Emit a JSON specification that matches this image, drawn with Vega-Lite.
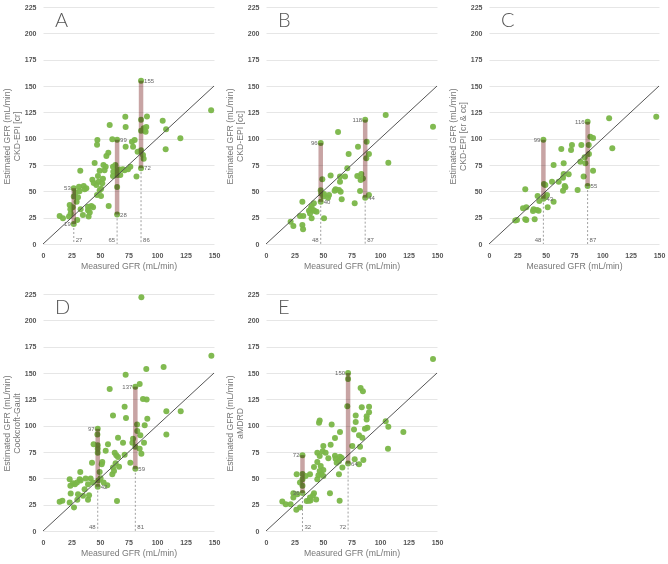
{
 "$schema": "https://vega.github.io/schema/vega-lite/v6.json",
 "padding": {"left": 2, "top": 3, "right": 5, "bottom": 5},
 "background": "white",
 "columns": 3,
 "spacing": {"row": 50, "column": 52},
 "bounds": "flush",
 "config": {
  "view": {"stroke": null},
  "font": "Liberation Sans",
  "axis": {"domain": false, "ticks": false, "labelFontSize": 7, "labelFontWeight": "bold", "labelColor": "#555", "labelFlush": false, "labelOverlap": false, "titleFontSize": 8.7, "titleFontWeight": "normal", "titleColor": "#777", "gridColor": "#e6e6e6", "labelPadding": 7},
  "axisX": {"grid": false, "titlePadding": 3},
  "axisY": {"titlePadding": 3, "titleLineHeight": 10, "titleY": 129}
 },
 "datasets": {
  "diag": [{"from": 0, "to": 150}],
  "panels": [{"panel": "A"}, {"panel": "B"}, {"panel": "C"}, {"panel": "D"}, {"panel": "E"}],
  "bars": [
   {"panel": "A", "mGFR": 27, "low": 19, "high": 53},
   {"panel": "A", "mGFR": 65, "low": 28, "high": 99},
   {"panel": "A", "mGFR": 86, "low": 72, "high": 155},
   {"panel": "B", "mGFR": 48, "low": 40, "high": 96},
   {"panel": "B", "mGFR": 87, "low": 44, "high": 118},
   {"panel": "C", "mGFR": 48, "low": 43, "high": 99},
   {"panel": "C", "mGFR": 87, "low": 55, "high": 116},
   {"panel": "D", "mGFR": 48, "low": 42, "high": 97},
   {"panel": "D", "mGFR": 81, "low": 59, "high": 137},
   {"panel": "E", "mGFR": 32, "low": 36, "high": 72},
   {"panel": "E", "mGFR": 72, "low": 64, "high": 150}
  ],
  "points": [
   {"panel":"A","mGFR":14.6,"eGFR":26.6},{"panel":"A","mGFR":17.5,"eGFR":24.5},{"panel":"A","mGFR":22.8,"eGFR":26},{"panel":"A","mGFR":23.4,"eGFR":37},{"panel":"A","mGFR":24,"eGFR":32.9},{"panel":"A","mGFR":24.3,"eGFR":29},{"panel":"A","mGFR":30,"eGFR":22.8},{"panel":"A","mGFR":32.7,"eGFR":69.6},{"panel":"A","mGFR":31.6,"eGFR":54.4},{"panel":"A","mGFR":35.7,"eGFR":55},{"panel":"A","mGFR":36.5,"eGFR":52},{"panel":"A","mGFR":32,"eGFR":50},{"panel":"A","mGFR":30.7,"eGFR":44.3},{"panel":"A","mGFR":29.5,"eGFR":40},{"panel":"A","mGFR":33,"eGFR":33},{"panel":"A","mGFR":35,"eGFR":27.5},{"panel":"A","mGFR":39.5,"eGFR":32},{"panel":"A","mGFR":40,"eGFR":26},{"panel":"A","mGFR":39.5,"eGFR":35.4},{"panel":"A","mGFR":42.4,"eGFR":36},{"panel":"A","mGFR":43.9,"eGFR":35},{"panel":"A","mGFR":43.3,"eGFR":61},{"panel":"A","mGFR":45.3,"eGFR":77},{"panel":"A","mGFR":47.7,"eGFR":98.7},{"panel":"A","mGFR":47.4,"eGFR":94.3},{"panel":"A","mGFR":46.8,"eGFR":56},{"panel":"A","mGFR":48.2,"eGFR":64.5},{"panel":"A","mGFR":49.7,"eGFR":69.6},{"panel":"A","mGFR":48.8,"eGFR":59},{"panel":"A","mGFR":49.7,"eGFR":51},{"panel":"A","mGFR":51,"eGFR":52.5},{"panel":"A","mGFR":47.4,"eGFR":46.5},{"panel":"A","mGFR":50.9,"eGFR":45.6},{"panel":"A","mGFR":52,"eGFR":57.6},{"panel":"A","mGFR":52.6,"eGFR":62},{"panel":"A","mGFR":55.6,"eGFR":83.5},{"panel":"A","mGFR":57.3,"eGFR":86.7},{"panel":"A","mGFR":54,"eGFR":70},{"panel":"A","mGFR":55,"eGFR":73.4},{"panel":"A","mGFR":53,"eGFR":75},{"panel":"A","mGFR":57.6,"eGFR":36},{"panel":"A","mGFR":58.5,"eGFR":113},{"panel":"A","mGFR":61.7,"eGFR":68.7},{"panel":"A","mGFR":61.4,"eGFR":73.4},{"panel":"A","mGFR":61.4,"eGFR":64.5},{"panel":"A","mGFR":63.5,"eGFR":75},{"panel":"A","mGFR":60.8,"eGFR":99.4},{"panel":"A","mGFR":65,"eGFR":99},{"panel":"A","mGFR":65,"eGFR":70},{"panel":"A","mGFR":65,"eGFR":65.5},{"panel":"A","mGFR":65,"eGFR":54},{"panel":"A","mGFR":65,"eGFR":28},{"panel":"A","mGFR":67,"eGFR":70.8},{"panel":"A","mGFR":67.8,"eGFR":65.5},{"panel":"A","mGFR":70,"eGFR":71},{"panel":"A","mGFR":71.6,"eGFR":70},{"panel":"A","mGFR":72.5,"eGFR":111},{"panel":"A","mGFR":72.2,"eGFR":120.7},{"panel":"A","mGFR":72.5,"eGFR":92.4},{"panel":"A","mGFR":74.6,"eGFR":71},{"panel":"A","mGFR":76.6,"eGFR":73.4},{"panel":"A","mGFR":78,"eGFR":97},{"panel":"A","mGFR":79,"eGFR":92.4},{"panel":"A","mGFR":80.4,"eGFR":98.7},{"panel":"A","mGFR":82,"eGFR":64},{"panel":"A","mGFR":83,"eGFR":87.6},{"panel":"A","mGFR":86,"eGFR":155},{"panel":"A","mGFR":86,"eGFR":118},{"panel":"A","mGFR":86,"eGFR":107.6},{"panel":"A","mGFR":86,"eGFR":89},{"panel":"A","mGFR":86,"eGFR":72},{"panel":"A","mGFR":88.3,"eGFR":110},{"panel":"A","mGFR":89,"eGFR":108},{"panel":"A","mGFR":90.6,"eGFR":111},{"panel":"A","mGFR":91.2,"eGFR":121},{"panel":"A","mGFR":87.7,"eGFR":84.5},{"panel":"A","mGFR":90,"eGFR":106.6},{"panel":"A","mGFR":105,"eGFR":117},{"panel":"A","mGFR":108,"eGFR":109},{"panel":"A","mGFR":107.6,"eGFR":90},{"panel":"A","mGFR":120.5,"eGFR":100.3},{"panel":"A","mGFR":147.5,"eGFR":127},{"panel":"A","mGFR":88.3,"eGFR":81},{"panel":"A","mGFR":27,"eGFR":53},{"panel":"A","mGFR":27,"eGFR":45},{"panel":"A","mGFR":27,"eGFR":19},{"panel":"A","mGFR":26,"eGFR":35},{"panel":"A","mGFR":38,"eGFR":53},{"panel":"A","mGFR":41,"eGFR":30},{"panel":"A","mGFR":44.5,"eGFR":58},{"panel":"A","mGFR":28.5,"eGFR":49},
   {"panel":"B","mGFR":146.5,"eGFR":111.4},{"panel":"B","mGFR":105,"eGFR":122.5},{"panel":"B","mGFR":107.3,"eGFR":77.2},{"panel":"B","mGFR":63.2,"eGFR":106.3},{"panel":"B","mGFR":72.5,"eGFR":85.4},{"panel":"B","mGFR":71.3,"eGFR":71.8},{"panel":"B","mGFR":80.7,"eGFR":92.4},{"panel":"B","mGFR":87,"eGFR":118},{"panel":"B","mGFR":88.3,"eGFR":97},{"panel":"B","mGFR":90.3,"eGFR":85.4},{"panel":"B","mGFR":88,"eGFR":81.3},{"panel":"B","mGFR":69.3,"eGFR":64},{"panel":"B","mGFR":64.9,"eGFR":64},{"panel":"B","mGFR":64.9,"eGFR":59},{"panel":"B","mGFR":56.7,"eGFR":65},{"panel":"B","mGFR":61.1,"eGFR":52},{"panel":"B","mGFR":60.2,"eGFR":50.6},{"panel":"B","mGFR":64,"eGFR":51.3},{"panel":"B","mGFR":65.5,"eGFR":49.7},{"panel":"B","mGFR":66.4,"eGFR":42.4},{"panel":"B","mGFR":55.3,"eGFR":46.5},{"panel":"B","mGFR":54.4,"eGFR":44},{"panel":"B","mGFR":50.9,"eGFR":47.5},{"panel":"B","mGFR":49.4,"eGFR":61.4},{"panel":"B","mGFR":48,"eGFR":96},{"panel":"B","mGFR":48,"eGFR":51},{"panel":"B","mGFR":48.5,"eGFR":48},{"panel":"B","mGFR":48,"eGFR":40},{"panel":"B","mGFR":50.3,"eGFR":45},{"panel":"B","mGFR":50.9,"eGFR":24.4},{"panel":"B","mGFR":42,"eGFR":38.6},{"panel":"B","mGFR":40,"eGFR":36},{"panel":"B","mGFR":39.4,"eGFR":33.9},{"panel":"B","mGFR":41.5,"eGFR":32.3},{"panel":"B","mGFR":42.7,"eGFR":31.3},{"panel":"B","mGFR":44.4,"eGFR":30.7},{"panel":"B","mGFR":37.7,"eGFR":31.6},{"panel":"B","mGFR":38.6,"eGFR":29},{"panel":"B","mGFR":40,"eGFR":24.4},{"panel":"B","mGFR":31.9,"eGFR":40.2},{"panel":"B","mGFR":29.8,"eGFR":26.6},{"panel":"B","mGFR":32.7,"eGFR":26.6},{"panel":"B","mGFR":31.9,"eGFR":18},{"panel":"B","mGFR":32.5,"eGFR":14},{"panel":"B","mGFR":21.6,"eGFR":21.2},{"panel":"B","mGFR":24,"eGFR":17},{"panel":"B","mGFR":77.8,"eGFR":38.6},{"panel":"B","mGFR":80.1,"eGFR":64.6},{"panel":"B","mGFR":83.6,"eGFR":66.5},{"panel":"B","mGFR":83,"eGFR":60.8},{"panel":"B","mGFR":85,"eGFR":62.3},{"panel":"B","mGFR":82.5,"eGFR":50.3},{"panel":"B","mGFR":87,"eGFR":44},{"panel":"B","mGFR":90.3,"eGFR":46.5},
   {"panel":"C","mGFR":147.6,"eGFR":120.9},{"panel":"C","mGFR":106,"eGFR":119.3},{"panel":"C","mGFR":108.8,"eGFR":90.8},{"panel":"C","mGFR":91.8,"eGFR":69.6},{"panel":"C","mGFR":89.4,"eGFR":101.9},{"panel":"C","mGFR":91.8,"eGFR":100.6},{"panel":"C","mGFR":88,"eGFR":94},{"panel":"C","mGFR":88.2,"eGFR":85.4},{"panel":"C","mGFR":87,"eGFR":116},{"panel":"C","mGFR":84.4,"eGFR":82.3},{"panel":"C","mGFR":81.5,"eGFR":94},{"panel":"C","mGFR":73.2,"eGFR":94},{"panel":"C","mGFR":72.4,"eGFR":89.2},{"panel":"C","mGFR":63.8,"eGFR":90.2},{"panel":"C","mGFR":80.6,"eGFR":78.2},{"panel":"C","mGFR":85,"eGFR":76.6},{"panel":"C","mGFR":65.9,"eGFR":76.6},{"panel":"C","mGFR":57,"eGFR":75},{"panel":"C","mGFR":70.3,"eGFR":66.1},{"panel":"C","mGFR":65.9,"eGFR":66.5},{"panel":"C","mGFR":65.3,"eGFR":63},{"panel":"C","mGFR":61.5,"eGFR":59.2},{"panel":"C","mGFR":55.6,"eGFR":59.2},{"panel":"C","mGFR":66.8,"eGFR":55},{"panel":"C","mGFR":67.4,"eGFR":53.8},{"panel":"C","mGFR":65.3,"eGFR":50.6},{"panel":"C","mGFR":78.2,"eGFR":51.3},{"panel":"C","mGFR":83.5,"eGFR":64},{"panel":"C","mGFR":87,"eGFR":55},{"panel":"C","mGFR":48,"eGFR":99},{"panel":"C","mGFR":49.7,"eGFR":56},{"panel":"C","mGFR":48.5,"eGFR":57},{"panel":"C","mGFR":51.2,"eGFR":46.5},{"panel":"C","mGFR":48,"eGFR":43},{"panel":"C","mGFR":49.7,"eGFR":44.3},{"panel":"C","mGFR":42.9,"eGFR":45.6},{"panel":"C","mGFR":44.4,"eGFR":40.8},{"panel":"C","mGFR":32,"eGFR":52},{"panel":"C","mGFR":51.8,"eGFR":34.8},{"panel":"C","mGFR":57,"eGFR":40.2},{"panel":"C","mGFR":30,"eGFR":33.9},{"panel":"C","mGFR":32.9,"eGFR":34.8},{"panel":"C","mGFR":39.4,"eGFR":32.9},{"panel":"C","mGFR":42.4,"eGFR":32.3},{"panel":"C","mGFR":43.8,"eGFR":31.6},{"panel":"C","mGFR":38.8,"eGFR":31.3},{"panel":"C","mGFR":40.3,"eGFR":23.4},{"panel":"C","mGFR":32,"eGFR":23.4},{"panel":"C","mGFR":32.9,"eGFR":22.8},{"panel":"C","mGFR":23.2,"eGFR":22.2},{"panel":"C","mGFR":24.7,"eGFR":22.8},
   {"panel":"D","mGFR":86.3,"eGFR":221.9},{"panel":"D","mGFR":147.7,"eGFR":166.4},{"panel":"D","mGFR":105.8,"eGFR":155.7},{"panel":"D","mGFR":90.6,"eGFR":153.8},{"panel":"D","mGFR":72.5,"eGFR":148.4},{"panel":"D","mGFR":58.5,"eGFR":134.9},{"panel":"D","mGFR":84.8,"eGFR":139.6},{"panel":"D","mGFR":81,"eGFR":137},{"panel":"D","mGFR":87.7,"eGFR":125.4},{"panel":"D","mGFR":90.9,"eGFR":124.8},{"panel":"D","mGFR":71.6,"eGFR":117.9},{"panel":"D","mGFR":61.4,"eGFR":109.7},{"panel":"D","mGFR":72.8,"eGFR":107.2},{"panel":"D","mGFR":108.2,"eGFR":113.8},{"panel":"D","mGFR":120.8,"eGFR":113.8},{"panel":"D","mGFR":91.5,"eGFR":106.5},{"panel":"D","mGFR":108.2,"eGFR":91.7},{"panel":"D","mGFR":89.2,"eGFR":100.5},{"panel":"D","mGFR":82.5,"eGFR":101.2},{"panel":"D","mGFR":82.7,"eGFR":94.9},{"panel":"D","mGFR":85.4,"eGFR":91},{"panel":"D","mGFR":65.8,"eGFR":88.6},{"panel":"D","mGFR":70.2,"eGFR":83.8},{"panel":"D","mGFR":79,"eGFR":87.6},{"panel":"D","mGFR":78.4,"eGFR":83.8},{"panel":"D","mGFR":88.6,"eGFR":83.8},{"panel":"D","mGFR":84.8,"eGFR":78.2},{"panel":"D","mGFR":86.3,"eGFR":73.4},{"panel":"D","mGFR":76.6,"eGFR":64.9},{"panel":"D","mGFR":71.6,"eGFR":72.5},{"panel":"D","mGFR":62.9,"eGFR":74.4},{"panel":"D","mGFR":64.3,"eGFR":71.8},{"panel":"D","mGFR":65.8,"eGFR":70.3},{"panel":"D","mGFR":63.7,"eGFR":64.3},{"panel":"D","mGFR":66.7,"eGFR":61.1},{"panel":"D","mGFR":61.4,"eGFR":60.2},{"panel":"D","mGFR":57,"eGFR":82.3},{"panel":"D","mGFR":55,"eGFR":76.3},{"panel":"D","mGFR":52,"eGFR":65.6},{"panel":"D","mGFR":51.5,"eGFR":63.3},{"panel":"D","mGFR":49.7,"eGFR":56.1},{"panel":"D","mGFR":43,"eGFR":64.9},{"panel":"D","mGFR":44.4,"eGFR":82.3},{"panel":"D","mGFR":48,"eGFR":97},{"panel":"D","mGFR":47.7,"eGFR":91.7},{"panel":"D","mGFR":48,"eGFR":81.3},{"panel":"D","mGFR":48,"eGFR":78.2},{"panel":"D","mGFR":48,"eGFR":74.4},{"panel":"D","mGFR":48,"eGFR":42},{"panel":"D","mGFR":53.2,"eGFR":46},{"panel":"D","mGFR":56.4,"eGFR":43.5},{"panel":"D","mGFR":64.9,"eGFR":28.4},{"panel":"D","mGFR":60.8,"eGFR":53.9},{"panel":"D","mGFR":62.3,"eGFR":57},{"panel":"D","mGFR":41.8,"eGFR":49.8},{"panel":"D","mGFR":43.9,"eGFR":46},{"panel":"D","mGFR":39.5,"eGFR":44.4},{"panel":"D","mGFR":37.4,"eGFR":49.8},{"panel":"D","mGFR":32.7,"eGFR":56.1},{"panel":"D","mGFR":32.2,"eGFR":49.2},{"panel":"D","mGFR":29.8,"eGFR":46},{"panel":"D","mGFR":28,"eGFR":44.4},{"panel":"D","mGFR":26.3,"eGFR":45.4},{"panel":"D","mGFR":24,"eGFR":42.9},{"panel":"D","mGFR":23.4,"eGFR":49.2},{"panel":"D","mGFR":24.3,"eGFR":35.6},{"panel":"D","mGFR":30.7,"eGFR":35},{"panel":"D","mGFR":36.5,"eGFR":39.7},{"panel":"D","mGFR":35.1,"eGFR":33.4},{"panel":"D","mGFR":39.5,"eGFR":29.6},{"panel":"D","mGFR":30.1,"eGFR":29.6},{"panel":"D","mGFR":23.4,"eGFR":27.1},{"panel":"D","mGFR":27.2,"eGFR":22.4},{"panel":"D","mGFR":14.6,"eGFR":27.7},{"panel":"D","mGFR":17,"eGFR":28.7},{"panel":"D","mGFR":40.4,"eGFR":34},{"panel":"D","mGFR":81,"eGFR":59},{"panel":"D","mGFR":81,"eGFR":80},{"panel":"D","mGFR":48.5,"eGFR":48},{"panel":"D","mGFR":50.5,"eGFR":50},{"panel":"D","mGFR":33,"eGFR":48},
   {"panel":"E","mGFR":146.5,"eGFR":163.3},{"panel":"E","mGFR":83,"eGFR":135.8},{"panel":"E","mGFR":85,"eGFR":132.7},{"panel":"E","mGFR":72,"eGFR":150},{"panel":"E","mGFR":72,"eGFR":144.3},{"panel":"E","mGFR":71.3,"eGFR":118.5},{"panel":"E","mGFR":84,"eGFR":117.6},{"panel":"E","mGFR":90.4,"eGFR":117.9},{"panel":"E","mGFR":90.4,"eGFR":112.8},{"panel":"E","mGFR":88.3,"eGFR":109},{"panel":"E","mGFR":78.7,"eGFR":109.7},{"panel":"E","mGFR":88.3,"eGFR":105.9},{"panel":"E","mGFR":105,"eGFR":104.3},{"panel":"E","mGFR":107.3,"eGFR":99},{"panel":"E","mGFR":120.5,"eGFR":93.9},{"panel":"E","mGFR":107,"eGFR":78.2},{"panel":"E","mGFR":47.1,"eGFR":105},{"panel":"E","mGFR":46.5,"eGFR":102.7},{"panel":"E","mGFR":64.9,"eGFR":93.9},{"panel":"E","mGFR":57.6,"eGFR":101.2},{"panel":"E","mGFR":78.7,"eGFR":103.4},{"panel":"E","mGFR":77.2,"eGFR":96.4},{"panel":"E","mGFR":88.9,"eGFR":98},{"panel":"E","mGFR":86.8,"eGFR":97},{"panel":"E","mGFR":81.6,"eGFR":90.8},{"panel":"E","mGFR":84.5,"eGFR":88.6},{"panel":"E","mGFR":60.5,"eGFR":88.2},{"panel":"E","mGFR":56.7,"eGFR":81.9},{"panel":"E","mGFR":50.3,"eGFR":80.7},{"panel":"E","mGFR":49.7,"eGFR":75.6},{"panel":"E","mGFR":45,"eGFR":74.4},{"panel":"E","mGFR":52.3,"eGFR":74.4},{"panel":"E","mGFR":75.7,"eGFR":80.7},{"panel":"E","mGFR":82.5,"eGFR":80},{"panel":"E","mGFR":60.5,"eGFR":71.5},{"panel":"E","mGFR":64.9,"eGFR":70.6},{"panel":"E","mGFR":61.1,"eGFR":68.7},{"panel":"E","mGFR":64,"eGFR":66.2},{"panel":"E","mGFR":66.4,"eGFR":69.3},{"panel":"E","mGFR":62,"eGFR":64.9},{"panel":"E","mGFR":67,"eGFR":60.2},{"panel":"E","mGFR":72,"eGFR":64},{"panel":"E","mGFR":77.8,"eGFR":68.1},{"panel":"E","mGFR":81.6,"eGFR":63.3},{"panel":"E","mGFR":85.4,"eGFR":67.4},{"panel":"E","mGFR":54.7,"eGFR":69},{"panel":"E","mGFR":47.1,"eGFR":71.2},{"panel":"E","mGFR":45,"eGFR":65.6},{"panel":"E","mGFR":48,"eGFR":61.8},{"panel":"E","mGFR":50.3,"eGFR":58},{"panel":"E","mGFR":47.1,"eGFR":57},{"panel":"E","mGFR":42.1,"eGFR":60.8},{"panel":"E","mGFR":48.5,"eGFR":53.9},{"panel":"E","mGFR":46,"eGFR":53},{"panel":"E","mGFR":50.3,"eGFR":52.3},{"panel":"E","mGFR":45,"eGFR":49.2},{"panel":"E","mGFR":64,"eGFR":53.9},{"panel":"E","mGFR":56.1,"eGFR":35.9},{"panel":"E","mGFR":64.6,"eGFR":28.7},{"panel":"E","mGFR":38.6,"eGFR":53.9},{"panel":"E","mGFR":34.8,"eGFR":52.3},{"panel":"E","mGFR":32,"eGFR":72},{"panel":"E","mGFR":32,"eGFR":54},{"panel":"E","mGFR":32,"eGFR":49.2},{"panel":"E","mGFR":32,"eGFR":42.9},{"panel":"E","mGFR":32,"eGFR":36},{"panel":"E","mGFR":26.9,"eGFR":53.9},{"panel":"E","mGFR":29.8,"eGFR":46},{"panel":"E","mGFR":27.5,"eGFR":35},{"panel":"E","mGFR":24,"eGFR":35.9},{"panel":"E","mGFR":24,"eGFR":31.8},{"panel":"E","mGFR":42.1,"eGFR":35.9},{"panel":"E","mGFR":41.2,"eGFR":33.7},{"panel":"E","mGFR":38.6,"eGFR":31.8},{"panel":"E","mGFR":37.7,"eGFR":28.7},{"panel":"E","mGFR":35.7,"eGFR":28.4},{"panel":"E","mGFR":14.3,"eGFR":28},{"panel":"E","mGFR":17.3,"eGFR":25.5},{"panel":"E","mGFR":21.6,"eGFR":25.5},{"panel":"E","mGFR":26.6,"eGFR":20.2},{"panel":"E","mGFR":29.8,"eGFR":22.4},{"panel":"E","mGFR":39,"eGFR":29},{"panel":"E","mGFR":44,"eGFR":30}
  ]
 },
 "concat": [
  {
   "width": 171, "height": 237,
   "layer": [
    {"data": {"name": "points"}, "transform": [{"filter": "datum.panel == 'A'"}], "mark": {"type": "circle", "size": 36, "color": "#7ab648", "opacity": 0.95},
     "encoding": {"x": {"field": "mGFR", "type": "quantitative", "scale": {"domain": [0, 150], "nice": false}, "axis": {"values": [0, 25, 50, 75, 100, 125, 150], "title": "Measured GFR (mL/min)"}},
                  "y": {"field": "eGFR", "type": "quantitative", "scale": {"domain": [0, 225], "nice": false}, "axis": {"values": [0, 25, 50, 75, 100, 125, 150, 175, 200, 225], "title": ["Estimated GFR (mL/min)", "CKD-EPI [cr]"]}}}},
    {"data": {"name": "diag"}, "mark": {"type": "rule", "color": "#555", "strokeWidth": 1}, "encoding": {"x": {"field": "from", "type": "quantitative", "axis": {"values": [0, 25, 50, 75, 100, 125, 150]}}, "y": {"field": "from", "type": "quantitative", "axis": {"values": [0, 25, 50, 75, 100, 125, 150, 175, 200, 225]}}, "x2": {"field": "to"}, "y2": {"field": "to"}}},
    {"data": {"name": "bars"}, "transform": [{"filter": "datum.panel == 'A'"}], "mark": {"type": "rule", "color": "#c8a4a4", "strokeWidth": 4.5, "blend": "multiply"}, "encoding": {"x": {"field": "mGFR", "type": "quantitative", "axis": {"values": [0, 25, 50, 75, 100, 125, 150]}}, "y": {"field": "low", "type": "quantitative", "axis": {"values": [0, 25, 50, 75, 100, 125, 150, 175, 200, 225]}}, "y2": {"field": "high"}}},
    {"data": {"name": "bars"}, "transform": [{"filter": "datum.panel == 'A'"}], "mark": {"type": "rule", "color": "#888", "strokeWidth": 0.8, "strokeDash": [2, 2]}, "encoding": {"x": {"field": "mGFR", "type": "quantitative", "axis": {"values": [0, 25, 50, 75, 100, 125, 150]}}, "y": {"field": "low", "type": "quantitative", "axis": {"values": [0, 25, 50, 75, 100, 125, 150, 175, 200, 225]}}, "y2": {"datum": 0}}},
    {"data": {"name": "bars"}, "transform": [{"filter": "datum.panel == 'A'"}, {"fold": ["high", "low"], "as": ["kind", "value"]}, {"filter": "datum.mGFR == 27"}], "mark": {"type": "text", "align": "right", "dx": -3, "fontSize": 6, "color": "#666"}, "encoding": {"x": {"field": "mGFR", "type": "quantitative", "axis": {"values": [0, 25, 50, 75, 100, 125, 150]}}, "y": {"field": "value", "type": "quantitative", "axis": {"values": [0, 25, 50, 75, 100, 125, 150, 175, 200, 225]}}, "text": {"field": "value", "type": "quantitative"}}},
    {"data": {"name": "bars"}, "transform": [{"filter": "datum.panel == 'A'"}, {"fold": ["high", "low"], "as": ["kind", "value"]}, {"filter": "datum.mGFR != 27"}], "mark": {"type": "text", "align": "left", "dx": 3, "fontSize": 6, "color": "#666"}, "encoding": {"x": {"field": "mGFR", "type": "quantitative", "axis": {"values": [0, 25, 50, 75, 100, 125, 150]}}, "y": {"field": "value", "type": "quantitative", "axis": {"values": [0, 25, 50, 75, 100, 125, 150, 175, 200, 225]}}, "text": {"field": "value", "type": "quantitative"}}},
    {"data": {"name": "bars"}, "transform": [{"filter": "datum.panel == 'A' && datum.mGFR == 65"}], "mark": {"type": "text", "align": "right", "dx": -2, "baseline": "bottom", "dy": -1, "fontSize": 6, "color": "#666"}, "encoding": {"x": {"field": "mGFR", "type": "quantitative", "axis": {"values": [0, 25, 50, 75, 100, 125, 150]}}, "y": {"datum": 0, "axis": {"values": [0, 25, 50, 75, 100, 125, 150, 175, 200, 225]}}, "text": {"field": "mGFR", "type": "quantitative"}}},
    {"data": {"name": "bars"}, "transform": [{"filter": "datum.panel == 'A' && datum.mGFR != 65"}], "mark": {"type": "text", "align": "left", "dx": 2, "baseline": "bottom", "dy": -1, "fontSize": 6, "color": "#666"}, "encoding": {"x": {"field": "mGFR", "type": "quantitative", "axis": {"values": [0, 25, 50, 75, 100, 125, 150]}}, "y": {"datum": 0, "axis": {"values": [0, 25, 50, 75, 100, 125, 150, 175, 200, 225]}}, "text": {"field": "mGFR", "type": "quantitative"}}},
    {"data": {"name": "panels"}, "transform": [{"filter": "datum.panel == 'A'"}], "mark": {"type": "text", "align": "left", "baseline": "alphabetic", "fontSize": 20, "color": "#555", "font": "Lato", "fontWeight": 300}, "encoding": {"x": {"datum": 10.5, "axis": {"values": [0, 25, 50, 75, 100, 125, 150]}}, "y": {"datum": 206, "axis": {"values": [0, 25, 50, 75, 100, 125, 150, 175, 200, 225]}}, "text": {"field": "panel", "type": "nominal"}}}
   ]
  },
  {
   "width": 171, "height": 237,
   "layer": [
    {"data": {"name": "points"}, "transform": [{"filter": "datum.panel == 'B'"}], "mark": {"type": "circle", "size": 36, "color": "#7ab648", "opacity": 0.95},
     "encoding": {"x": {"field": "mGFR", "type": "quantitative", "scale": {"domain": [0, 150], "nice": false}, "axis": {"values": [0, 25, 50, 75, 100, 125, 150], "title": "Measured GFR (mL/min)"}},
                  "y": {"field": "eGFR", "type": "quantitative", "scale": {"domain": [0, 225], "nice": false}, "axis": {"values": [0, 25, 50, 75, 100, 125, 150, 175, 200, 225], "title": ["Estimated GFR (mL/min)", "CKD-EPI [cc]"]}}}},
    {"data": {"name": "diag"}, "mark": {"type": "rule", "color": "#555", "strokeWidth": 1}, "encoding": {"x": {"field": "from", "type": "quantitative", "axis": {"values": [0, 25, 50, 75, 100, 125, 150]}}, "y": {"field": "from", "type": "quantitative", "axis": {"values": [0, 25, 50, 75, 100, 125, 150, 175, 200, 225]}}, "x2": {"field": "to"}, "y2": {"field": "to"}}},
    {"data": {"name": "bars"}, "transform": [{"filter": "datum.panel == 'B'"}], "mark": {"type": "rule", "color": "#c8a4a4", "strokeWidth": 4.5, "blend": "multiply"}, "encoding": {"x": {"field": "mGFR", "type": "quantitative", "axis": {"values": [0, 25, 50, 75, 100, 125, 150]}}, "y": {"field": "low", "type": "quantitative", "axis": {"values": [0, 25, 50, 75, 100, 125, 150, 175, 200, 225]}}, "y2": {"field": "high"}}},
    {"data": {"name": "bars"}, "transform": [{"filter": "datum.panel == 'B'"}], "mark": {"type": "rule", "color": "#888", "strokeWidth": 0.8, "strokeDash": [2, 2]}, "encoding": {"x": {"field": "mGFR", "type": "quantitative", "axis": {"values": [0, 25, 50, 75, 100, 125, 150]}}, "y": {"field": "low", "type": "quantitative", "axis": {"values": [0, 25, 50, 75, 100, 125, 150, 175, 200, 225]}}, "y2": {"datum": 0}}},
    {"data": {"name": "bars"}, "transform": [{"filter": "datum.panel == 'B'"}, {"fold": ["high", "low"], "as": ["kind", "value"]}, {"filter": "datum.kind == 'high'"}], "mark": {"type": "text", "align": "right", "dx": -3, "fontSize": 6, "color": "#666"}, "encoding": {"x": {"field": "mGFR", "type": "quantitative", "axis": {"values": [0, 25, 50, 75, 100, 125, 150]}}, "y": {"field": "value", "type": "quantitative", "axis": {"values": [0, 25, 50, 75, 100, 125, 150, 175, 200, 225]}}, "text": {"field": "value", "type": "quantitative"}}},
    {"data": {"name": "bars"}, "transform": [{"filter": "datum.panel == 'B'"}, {"fold": ["high", "low"], "as": ["kind", "value"]}, {"filter": "datum.kind == 'low'"}], "mark": {"type": "text", "align": "left", "dx": 3, "fontSize": 6, "color": "#666"}, "encoding": {"x": {"field": "mGFR", "type": "quantitative", "axis": {"values": [0, 25, 50, 75, 100, 125, 150]}}, "y": {"field": "value", "type": "quantitative", "axis": {"values": [0, 25, 50, 75, 100, 125, 150, 175, 200, 225]}}, "text": {"field": "value", "type": "quantitative"}}},
    {"data": {"name": "bars"}, "transform": [{"filter": "datum.panel == 'B' && datum.mGFR == 48"}], "mark": {"type": "text", "align": "right", "dx": -2, "baseline": "bottom", "dy": -1, "fontSize": 6, "color": "#666"}, "encoding": {"x": {"field": "mGFR", "type": "quantitative", "axis": {"values": [0, 25, 50, 75, 100, 125, 150]}}, "y": {"datum": 0, "axis": {"values": [0, 25, 50, 75, 100, 125, 150, 175, 200, 225]}}, "text": {"field": "mGFR", "type": "quantitative"}}},
    {"data": {"name": "bars"}, "transform": [{"filter": "datum.panel == 'B' && datum.mGFR != 48"}], "mark": {"type": "text", "align": "left", "dx": 2, "baseline": "bottom", "dy": -1, "fontSize": 6, "color": "#666"}, "encoding": {"x": {"field": "mGFR", "type": "quantitative", "axis": {"values": [0, 25, 50, 75, 100, 125, 150]}}, "y": {"datum": 0, "axis": {"values": [0, 25, 50, 75, 100, 125, 150, 175, 200, 225]}}, "text": {"field": "mGFR", "type": "quantitative"}}},
    {"data": {"name": "panels"}, "transform": [{"filter": "datum.panel == 'B'"}], "mark": {"type": "text", "align": "left", "baseline": "alphabetic", "fontSize": 20, "color": "#555", "font": "Lato", "fontWeight": 300}, "encoding": {"x": {"datum": 10.5, "axis": {"values": [0, 25, 50, 75, 100, 125, 150]}}, "y": {"datum": 206, "axis": {"values": [0, 25, 50, 75, 100, 125, 150, 175, 200, 225]}}, "text": {"field": "panel", "type": "nominal"}}}
   ]
  },
  {
   "width": 170, "height": 237,
   "layer": [
    {"data": {"name": "points"}, "transform": [{"filter": "datum.panel == 'C'"}], "mark": {"type": "circle", "size": 36, "color": "#7ab648", "opacity": 0.95},
     "encoding": {"x": {"field": "mGFR", "type": "quantitative", "scale": {"domain": [0, 150], "nice": false}, "axis": {"values": [0, 25, 50, 75, 100, 125, 150], "title": "Measured GFR (mL/min)"}},
                  "y": {"field": "eGFR", "type": "quantitative", "scale": {"domain": [0, 225], "nice": false}, "axis": {"values": [0, 25, 50, 75, 100, 125, 150, 175, 200, 225], "title": ["Estimated GFR (mL/min)", "CKD-EPI [cr & cc]"]}}}},
    {"data": {"name": "diag"}, "mark": {"type": "rule", "color": "#555", "strokeWidth": 1}, "encoding": {"x": {"field": "from", "type": "quantitative", "axis": {"values": [0, 25, 50, 75, 100, 125, 150]}}, "y": {"field": "from", "type": "quantitative", "axis": {"values": [0, 25, 50, 75, 100, 125, 150, 175, 200, 225]}}, "x2": {"field": "to"}, "y2": {"field": "to"}}},
    {"data": {"name": "bars"}, "transform": [{"filter": "datum.panel == 'C'"}], "mark": {"type": "rule", "color": "#c8a4a4", "strokeWidth": 4.5, "blend": "multiply"}, "encoding": {"x": {"field": "mGFR", "type": "quantitative", "axis": {"values": [0, 25, 50, 75, 100, 125, 150]}}, "y": {"field": "low", "type": "quantitative", "axis": {"values": [0, 25, 50, 75, 100, 125, 150, 175, 200, 225]}}, "y2": {"field": "high"}}},
    {"data": {"name": "bars"}, "transform": [{"filter": "datum.panel == 'C'"}], "mark": {"type": "rule", "color": "#888", "strokeWidth": 0.8, "strokeDash": [2, 2]}, "encoding": {"x": {"field": "mGFR", "type": "quantitative", "axis": {"values": [0, 25, 50, 75, 100, 125, 150]}}, "y": {"field": "low", "type": "quantitative", "axis": {"values": [0, 25, 50, 75, 100, 125, 150, 175, 200, 225]}}, "y2": {"datum": 0}}},
    {"data": {"name": "bars"}, "transform": [{"filter": "datum.panel == 'C'"}, {"fold": ["high", "low"], "as": ["kind", "value"]}, {"filter": "datum.kind == 'high'"}], "mark": {"type": "text", "align": "right", "dx": -3, "fontSize": 6, "color": "#666"}, "encoding": {"x": {"field": "mGFR", "type": "quantitative", "axis": {"values": [0, 25, 50, 75, 100, 125, 150]}}, "y": {"field": "value", "type": "quantitative", "axis": {"values": [0, 25, 50, 75, 100, 125, 150, 175, 200, 225]}}, "text": {"field": "value", "type": "quantitative"}}},
    {"data": {"name": "bars"}, "transform": [{"filter": "datum.panel == 'C'"}, {"fold": ["high", "low"], "as": ["kind", "value"]}, {"filter": "datum.kind == 'low'"}], "mark": {"type": "text", "align": "left", "dx": 3, "fontSize": 6, "color": "#666"}, "encoding": {"x": {"field": "mGFR", "type": "quantitative", "axis": {"values": [0, 25, 50, 75, 100, 125, 150]}}, "y": {"field": "value", "type": "quantitative", "axis": {"values": [0, 25, 50, 75, 100, 125, 150, 175, 200, 225]}}, "text": {"field": "value", "type": "quantitative"}}},
    {"data": {"name": "bars"}, "transform": [{"filter": "datum.panel == 'C' && datum.mGFR == 48"}], "mark": {"type": "text", "align": "right", "dx": -2, "baseline": "bottom", "dy": -1, "fontSize": 6, "color": "#666"}, "encoding": {"x": {"field": "mGFR", "type": "quantitative", "axis": {"values": [0, 25, 50, 75, 100, 125, 150]}}, "y": {"datum": 0, "axis": {"values": [0, 25, 50, 75, 100, 125, 150, 175, 200, 225]}}, "text": {"field": "mGFR", "type": "quantitative"}}},
    {"data": {"name": "bars"}, "transform": [{"filter": "datum.panel == 'C' && datum.mGFR != 48"}], "mark": {"type": "text", "align": "left", "dx": 2, "baseline": "bottom", "dy": -1, "fontSize": 6, "color": "#666"}, "encoding": {"x": {"field": "mGFR", "type": "quantitative", "axis": {"values": [0, 25, 50, 75, 100, 125, 150]}}, "y": {"datum": 0, "axis": {"values": [0, 25, 50, 75, 100, 125, 150, 175, 200, 225]}}, "text": {"field": "mGFR", "type": "quantitative"}}},
    {"data": {"name": "panels"}, "transform": [{"filter": "datum.panel == 'C'"}], "mark": {"type": "text", "align": "left", "baseline": "alphabetic", "fontSize": 20, "color": "#555", "font": "Lato", "fontWeight": 300}, "encoding": {"x": {"datum": 10.5, "axis": {"values": [0, 25, 50, 75, 100, 125, 150]}}, "y": {"datum": 206, "axis": {"values": [0, 25, 50, 75, 100, 125, 150, 175, 200, 225]}}, "text": {"field": "panel", "type": "nominal"}}}
   ]
  },
  {
   "width": 171, "height": 237,
   "layer": [
    {"data": {"name": "points"}, "transform": [{"filter": "datum.panel == 'D'"}], "mark": {"type": "circle", "size": 36, "color": "#7ab648", "opacity": 0.95},
     "encoding": {"x": {"field": "mGFR", "type": "quantitative", "scale": {"domain": [0, 150], "nice": false}, "axis": {"values": [0, 25, 50, 75, 100, 125, 150], "title": "Measured GFR (mL/min)"}},
                  "y": {"field": "eGFR", "type": "quantitative", "scale": {"domain": [0, 225], "nice": false}, "axis": {"values": [0, 25, 50, 75, 100, 125, 150, 175, 200, 225], "title": ["Estimated GFR (mL/min)", "Cockcroft-Gault"]}}}},
    {"data": {"name": "diag"}, "mark": {"type": "rule", "color": "#555", "strokeWidth": 1}, "encoding": {"x": {"field": "from", "type": "quantitative", "axis": {"values": [0, 25, 50, 75, 100, 125, 150]}}, "y": {"field": "from", "type": "quantitative", "axis": {"values": [0, 25, 50, 75, 100, 125, 150, 175, 200, 225]}}, "x2": {"field": "to"}, "y2": {"field": "to"}}},
    {"data": {"name": "bars"}, "transform": [{"filter": "datum.panel == 'D'"}], "mark": {"type": "rule", "color": "#c8a4a4", "strokeWidth": 4.5, "blend": "multiply"}, "encoding": {"x": {"field": "mGFR", "type": "quantitative", "axis": {"values": [0, 25, 50, 75, 100, 125, 150]}}, "y": {"field": "low", "type": "quantitative", "axis": {"values": [0, 25, 50, 75, 100, 125, 150, 175, 200, 225]}}, "y2": {"field": "high"}}},
    {"data": {"name": "bars"}, "transform": [{"filter": "datum.panel == 'D'"}], "mark": {"type": "rule", "color": "#888", "strokeWidth": 0.8, "strokeDash": [2, 2]}, "encoding": {"x": {"field": "mGFR", "type": "quantitative", "axis": {"values": [0, 25, 50, 75, 100, 125, 150]}}, "y": {"field": "low", "type": "quantitative", "axis": {"values": [0, 25, 50, 75, 100, 125, 150, 175, 200, 225]}}, "y2": {"datum": 0}}},
    {"data": {"name": "bars"}, "transform": [{"filter": "datum.panel == 'D'"}, {"fold": ["high", "low"], "as": ["kind", "value"]}, {"filter": "datum.kind == 'high'"}], "mark": {"type": "text", "align": "right", "dx": -3, "fontSize": 6, "color": "#666"}, "encoding": {"x": {"field": "mGFR", "type": "quantitative", "axis": {"values": [0, 25, 50, 75, 100, 125, 150]}}, "y": {"field": "value", "type": "quantitative", "axis": {"values": [0, 25, 50, 75, 100, 125, 150, 175, 200, 225]}}, "text": {"field": "value", "type": "quantitative"}}},
    {"data": {"name": "bars"}, "transform": [{"filter": "datum.panel == 'D'"}, {"fold": ["high", "low"], "as": ["kind", "value"]}, {"filter": "datum.kind == 'low'"}], "mark": {"type": "text", "align": "left", "dx": 3, "fontSize": 6, "color": "#666"}, "encoding": {"x": {"field": "mGFR", "type": "quantitative", "axis": {"values": [0, 25, 50, 75, 100, 125, 150]}}, "y": {"field": "value", "type": "quantitative", "axis": {"values": [0, 25, 50, 75, 100, 125, 150, 175, 200, 225]}}, "text": {"field": "value", "type": "quantitative"}}},
    {"data": {"name": "bars"}, "transform": [{"filter": "datum.panel == 'D' && datum.mGFR == 48"}], "mark": {"type": "text", "align": "right", "dx": -2, "baseline": "bottom", "dy": -1, "fontSize": 6, "color": "#666"}, "encoding": {"x": {"field": "mGFR", "type": "quantitative", "axis": {"values": [0, 25, 50, 75, 100, 125, 150]}}, "y": {"datum": 0, "axis": {"values": [0, 25, 50, 75, 100, 125, 150, 175, 200, 225]}}, "text": {"field": "mGFR", "type": "quantitative"}}},
    {"data": {"name": "bars"}, "transform": [{"filter": "datum.panel == 'D' && datum.mGFR != 48"}], "mark": {"type": "text", "align": "left", "dx": 2, "baseline": "bottom", "dy": -1, "fontSize": 6, "color": "#666"}, "encoding": {"x": {"field": "mGFR", "type": "quantitative", "axis": {"values": [0, 25, 50, 75, 100, 125, 150]}}, "y": {"datum": 0, "axis": {"values": [0, 25, 50, 75, 100, 125, 150, 175, 200, 225]}}, "text": {"field": "mGFR", "type": "quantitative"}}},
    {"data": {"name": "panels"}, "transform": [{"filter": "datum.panel == 'D'"}], "mark": {"type": "text", "align": "left", "baseline": "alphabetic", "fontSize": 20, "color": "#555", "font": "Lato", "fontWeight": 300}, "encoding": {"x": {"datum": 10.5, "axis": {"values": [0, 25, 50, 75, 100, 125, 150]}}, "y": {"datum": 206, "axis": {"values": [0, 25, 50, 75, 100, 125, 150, 175, 200, 225]}}, "text": {"field": "panel", "type": "nominal"}}}
   ]
  },
  {
   "width": 171, "height": 237,
   "layer": [
    {"data": {"name": "points"}, "transform": [{"filter": "datum.panel == 'E'"}], "mark": {"type": "circle", "size": 36, "color": "#7ab648", "opacity": 0.95},
     "encoding": {"x": {"field": "mGFR", "type": "quantitative", "scale": {"domain": [0, 150], "nice": false}, "axis": {"values": [0, 25, 50, 75, 100, 125, 150], "title": "Measured GFR (mL/min)"}},
                  "y": {"field": "eGFR", "type": "quantitative", "scale": {"domain": [0, 225], "nice": false}, "axis": {"values": [0, 25, 50, 75, 100, 125, 150, 175, 200, 225], "title": ["Estimated GFR (mL/min)", "aMDRD"]}}}},
    {"data": {"name": "diag"}, "mark": {"type": "rule", "color": "#555", "strokeWidth": 1}, "encoding": {"x": {"field": "from", "type": "quantitative", "axis": {"values": [0, 25, 50, 75, 100, 125, 150]}}, "y": {"field": "from", "type": "quantitative", "axis": {"values": [0, 25, 50, 75, 100, 125, 150, 175, 200, 225]}}, "x2": {"field": "to"}, "y2": {"field": "to"}}},
    {"data": {"name": "bars"}, "transform": [{"filter": "datum.panel == 'E'"}], "mark": {"type": "rule", "color": "#c8a4a4", "strokeWidth": 4.5, "blend": "multiply"}, "encoding": {"x": {"field": "mGFR", "type": "quantitative", "axis": {"values": [0, 25, 50, 75, 100, 125, 150]}}, "y": {"field": "low", "type": "quantitative", "axis": {"values": [0, 25, 50, 75, 100, 125, 150, 175, 200, 225]}}, "y2": {"field": "high"}}},
    {"data": {"name": "bars"}, "transform": [{"filter": "datum.panel == 'E'"}], "mark": {"type": "rule", "color": "#888", "strokeWidth": 0.8, "strokeDash": [2, 2]}, "encoding": {"x": {"field": "mGFR", "type": "quantitative", "axis": {"values": [0, 25, 50, 75, 100, 125, 150]}}, "y": {"field": "low", "type": "quantitative", "axis": {"values": [0, 25, 50, 75, 100, 125, 150, 175, 200, 225]}}, "y2": {"datum": 0}}},
    {"data": {"name": "bars"}, "transform": [{"filter": "datum.panel == 'E'"}, {"fold": ["high", "low"], "as": ["kind", "value"]}, {"filter": "datum.kind == 'high' || datum.mGFR == 32"}], "mark": {"type": "text", "align": "right", "dx": -3, "fontSize": 6, "color": "#666"}, "encoding": {"x": {"field": "mGFR", "type": "quantitative", "axis": {"values": [0, 25, 50, 75, 100, 125, 150]}}, "y": {"field": "value", "type": "quantitative", "axis": {"values": [0, 25, 50, 75, 100, 125, 150, 175, 200, 225]}}, "text": {"field": "value", "type": "quantitative"}}},
    {"data": {"name": "bars"}, "transform": [{"filter": "datum.panel == 'E'"}, {"fold": ["high", "low"], "as": ["kind", "value"]}, {"filter": "datum.kind == 'low' && datum.mGFR == 72"}], "mark": {"type": "text", "align": "left", "dx": 3, "fontSize": 6, "color": "#666"}, "encoding": {"x": {"field": "mGFR", "type": "quantitative", "axis": {"values": [0, 25, 50, 75, 100, 125, 150]}}, "y": {"field": "value", "type": "quantitative", "axis": {"values": [0, 25, 50, 75, 100, 125, 150, 175, 200, 225]}}, "text": {"field": "value", "type": "quantitative"}}},
    {"data": {"name": "bars"}, "transform": [{"filter": "datum.panel == 'E' && datum.mGFR == 72"}], "mark": {"type": "text", "align": "right", "dx": -2, "baseline": "bottom", "dy": -1, "fontSize": 6, "color": "#666"}, "encoding": {"x": {"field": "mGFR", "type": "quantitative", "axis": {"values": [0, 25, 50, 75, 100, 125, 150]}}, "y": {"datum": 0, "axis": {"values": [0, 25, 50, 75, 100, 125, 150, 175, 200, 225]}}, "text": {"field": "mGFR", "type": "quantitative"}}},
    {"data": {"name": "bars"}, "transform": [{"filter": "datum.panel == 'E' && datum.mGFR != 72"}], "mark": {"type": "text", "align": "left", "dx": 2, "baseline": "bottom", "dy": -1, "fontSize": 6, "color": "#666"}, "encoding": {"x": {"field": "mGFR", "type": "quantitative", "axis": {"values": [0, 25, 50, 75, 100, 125, 150]}}, "y": {"datum": 0, "axis": {"values": [0, 25, 50, 75, 100, 125, 150, 175, 200, 225]}}, "text": {"field": "mGFR", "type": "quantitative"}}},
    {"data": {"name": "panels"}, "transform": [{"filter": "datum.panel == 'E'"}], "mark": {"type": "text", "align": "left", "baseline": "alphabetic", "fontSize": 20, "color": "#555", "font": "Lato", "fontWeight": 300}, "encoding": {"x": {"datum": 10.5, "axis": {"values": [0, 25, 50, 75, 100, 125, 150]}}, "y": {"datum": 206, "axis": {"values": [0, 25, 50, 75, 100, 125, 150, 175, 200, 225]}}, "text": {"field": "panel", "type": "nominal"}}}
   ]
  }
 ]
}
